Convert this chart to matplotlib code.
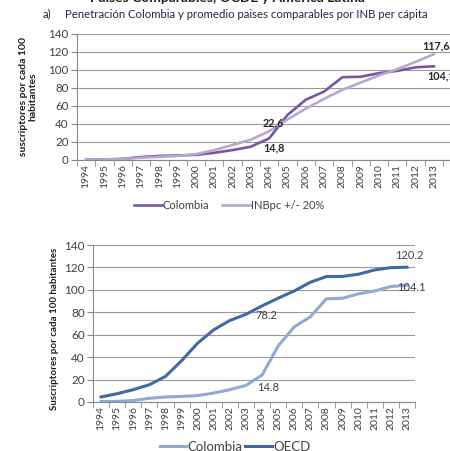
import matplotlib
matplotlib.use("Agg")
import matplotlib.pyplot as plt
import numpy as np

years = [str(y) for y in range(1994, 2014)]
colombia = [0.3, 0.6, 1.3, 3.3, 4.5, 5.0, 5.7, 8.0, 11.0, 14.8,
            24.0, 50.0, 67.0, 76.0, 92.0, 92.5, 96.5, 99.0, 103.0, 104.1]
inbpc = [0.2, 0.5, 1.2, 2.5, 3.5, 4.5, 6.5, 11.0, 16.7, 22.6,
         32.0, 45.0, 57.0, 68.0, 78.0, 86.0, 94.0, 101.0, 109.0, 117.6]
oecd = [4.5, 7.4, 11.0, 15.4, 22.8, 36.8, 52.5, 64.4, 72.7, 78.2,
        85.7, 92.6, 99.0, 106.8, 111.9, 112.0, 114.0, 117.8, 119.8, 120.2]
yticks = [0, 20, 40, 60, 80, 100, 120, 140]

plt.rcParams['font.family'] = ['Lato', 'DejaVu Sans']
W, H = 450, 451
fig = plt.figure(figsize=(W / 100, H / 100), dpi=100)
fig.patch.set_facecolor('white')

def px_axes(left, right, top, bottom):
    return fig.add_axes([left / W, 1 - bottom / H, (right - left) / W, (bottom - top) / H])

def style(ax, ncat_right, xfs=7.5, yfs=8.3):
    x = np.arange(len(years))
    ax.set_xlim(-0.5, ncat_right)
    ax.set_ylim(0, 140)
    ax.set_yticks(yticks)
    ax.set_xticks(x)
    ax.set_xticklabels(years, rotation=90, fontsize=xfs, color='#404040')
    ax.set_xticks(np.arange(-0.5, len(years), 1), minor=True)
    ax.tick_params(axis='x', which='major', length=0, pad=3)
    ax.tick_params(axis='x', which='minor', length=4, color='#888888', direction='out')
    ax.tick_params(axis='y', length=4, color='#888888', labelsize=yfs, labelcolor='#404040', pad=2)
    ax.grid(axis='y', color='#9a9a9a', lw=0.8)
    ax.set_axisbelow(True)
    for s in ['top', 'right']:
        ax.spines[s].set_visible(False)
    ax.spines['left'].set_color('#888888')
    ax.spines['bottom'].set_color('#888888')

# Titles
fig.text(227 / W, 1 + 2 / H, 'Paises Comparables, OCDE y America Latina', ha='center', va='center',
         fontsize=10, fontweight='bold', color='#1f1f1f')
fig.text(43 / W, 1 - 14 / H, 'a)', ha='left', va='center', fontsize=8.2, color='#1f2a44')
fig.text(65 / W, 1 - 14 / H, 'Penetración Colombia y promedio paises comparables por INB per cápita',
         ha='left', va='center', fontsize=8.2, color='#1f2a44')

# Top chart
ax1 = px_axes(77, 450, 34, 160)
x = np.arange(len(years))
l1, = ax1.plot(x, colombia, color='#7657a3', lw=1.9, label='Colombia')
l2, = ax1.plot(x, inbpc, color='#b8a7d1', lw=1.9, label='INBpc +/- 20%')
style(ax1, (450 - 77) / 18.3 - 0.5)
fig.text(28 / W, 1 - 97 / H, 'suscriptores por cada 100\nhabitantes', rotation=90, ha='center', va='center',
         fontsize=7.5, fontweight='bold', color='#1f1f1f', linespacing=1.1)
kw = dict(textcoords='offset pixels', fontsize=7.8, fontweight='bold', color='#262626', va='center', ha='left')
ax1.annotate('22,6', (9, inbpc[9]), xytext=(12, 17), **kw)
ax1.annotate('14,8', (9, colombia[9]), xytext=(12, -1), **kw)
ax1.annotate('117,6', (19, inbpc[19]), xytext=(-12, 8), **kw)
ax1.annotate('104,1', (19, colombia[19]), xytext=(-7, -10), **kw)
fig.legend(handles=[l1, l2], loc='center', bbox_to_anchor=(229 / W, 1 - 205 / H), ncol=2, frameon=False,
           fontsize=8, handlelength=2.5, handletextpad=0.1, columnspacing=1.1, labelcolor='#404040')

# Bottom chart
ax2 = px_axes(93, 415, 245, 402)
l3, = ax2.plot(x, colombia, color='#8eaad5', lw=2.2, label='Colombia')
l4, = ax2.plot(x, oecd, color='#3e6aa7', lw=2.2, label='OECD')
style(ax2, 19.5, xfs=7.5, yfs=8.5)
fig.text(55 / W, 1 - 329 / H, 'Suscriptores por cada 100 habitantes', rotation=90, ha='center', va='center',
         fontsize=7, fontweight='bold', color='#1f1f1f')
kw2 = dict(textcoords='offset pixels', fontsize=8, color='#404040', va='center', ha='left')
ax2.annotate('78.2', (9, oecd[9]), xytext=(9, -1), **kw2)
ax2.annotate('14.8', (9, colombia[9]), xytext=(11, -2), **kw2)
ax2.annotate('120.2', (19, oecd[19]), xytext=(-12, 12), **kw2)
ax2.annotate('104.1', (19, colombia[19]), xytext=(-10, -2), **kw2)
fig.legend(handles=[l3, l4], loc='center', bbox_to_anchor=(235 / W, 1 - 447 / H), ncol=2, frameon=False,
           fontsize=9.5, handlelength=2.0, handletextpad=0.1, columnspacing=0.2, labelcolor='#404040')

fig.savefig('out.png', dpi=100, facecolor='white')
